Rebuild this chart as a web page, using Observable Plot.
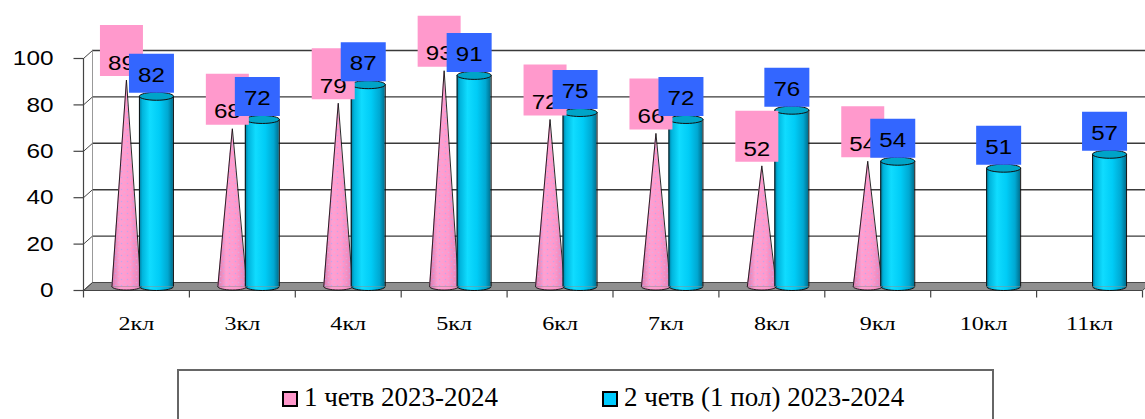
<!DOCTYPE html>
<html>
<head>
<meta charset="utf-8">
<script src="https://cdn.jsdelivr.net/npm/d3@7"></script>
<script src="https://cdn.jsdelivr.net/npm/@observablehq/plot@0.6"></script>
<style>
html, body { margin: 0; padding: 0; background: #fff; }
#wrap { width: 1145px; height: 419px; overflow: hidden; position: relative; }
#legend { position: relative; margin-left: 177px; margin-top: 9px; width: 817px; height: 70px;
  border: 2px solid #666; box-sizing: border-box; font-family: "Liberation Serif", serif; font-size: 27px; color: #000; }
#legend .sw { position: absolute; top: 20px; width: 12px; height: 12px; border: 2.5px solid #000; }
#legend .tx { position: absolute; top: 13px; line-height: 27px; white-space: nowrap; }
</style>
</head>
<body>
<div id="wrap"><div id="chart"></div><div id="legend"></div></div>
<script>
// ---- data ----
const categories = ["2кл","3кл","4кл","5кл","6кл","7кл","8кл","9кл","10кл","11кл"];
const quarter1 = [89, 68, 79, 93, 72, 66, 52, 54, null, null];
const quarter2 = [82, 72, 87, 91, 75, 72, 76, 54, 51, 57];
const yTicks = [0, 20, 40, 60, 80, 100];
const seriesNames = ["1 четв 2023-2024", "2 четв (1 пол) 2023-2024"];
const seriesColors = ["#FF99CC", "#00CCFF"];
const labelColors = ["#FF99CC", "#3366FF"];

// ---- layout ----
const W = 1145, H = 360, ML = 83, MR = 3, MT = 58, MB = 70;
const PXU = (W - ML - MR) / categories.length;
const PXY = (H - MT - MB) / 100;
const ux = px => px / PXU;
const uy = px => px / PXY;
const DX = 9, DY = 8, MID = -4;

// derived mark tables
const cones = [], coneBases = [], cyls = [], lab1 = [], lab2 = [];
quarter1.forEach((val, i) => {
  if (val == null) return;
  const cx = i + 0.5 + ux(-10);
  cones.push({i, x: cx - ux(14.5), y: 0}, {i, x: cx, y: val}, {i, x: cx + ux(14.5), y: 0});
  coneBases.push({x: cx, y: 0});
  lab1.push({x: i + 0.5 + ux(-15), y: val, t: String(val)});
});
quarter2.forEach((val, i) => {
  if (val == null) return;
  const cx = i + 0.5 + ux(20);
  cyls.push({x1: cx - ux(17), x2: cx + ux(17), x: cx, y: val});
  lab2.push({x: i + 0.5 + ux(15), y: val, t: String(val)});
});
const floor = [{x: 0, y: 0}, {x: categories.length, y: 0}, {x: categories.length + ux(DX), y: uy(DY)}, {x: ux(DX), y: uy(DY)}, {x: 0, y: 0}];

// custom symbols
const K = 0.5523;
function ellipseSym(rx, ry, mode) {
  return {draw(c) {
    c.moveTo(-rx, 0);
    c.bezierCurveTo(-rx, ry * K, -rx * K, ry, 0, ry);
    c.bezierCurveTo(rx * K, ry, rx, ry * K, rx, 0);
    if (mode === "full") {
      c.bezierCurveTo(rx, -ry * K, rx * K, -ry, 0, -ry);
      c.bezierCurveTo(-rx * K, -ry, -rx, -ry * K, -rx, 0);
      c.closePath();
    } else if (mode === "halfFill") c.closePath();
  }};
}
function rectSym(w, h) { return {draw(c) { c.rect(-w / 2, -h / 2, w, h); }}; }

const numFont = "Liberation Sans, Arial, sans-serif";

const plot = Plot.plot({
  width: W, height: H,
  marginLeft: ML, marginRight: MR, marginTop: MT, marginBottom: MB,
  x: {type: "linear", domain: [0, categories.length], axis: null},
  y: {domain: [0, 100], axis: null},
  style: {background: "white", overflow: "hidden"},
  marks: [
    // floor
    Plot.line(floor, {x: "x", y: "y", fill: "#8f8f8f", stroke: "#4a4a4a", strokeWidth: 1}),
    // back wall gridlines
    Plot.ruleY(yTicks.filter(t => t > 0), {y: d => d, x1: () => 0, x2: () => categories.length + 0.2, dx: DX, dy: -DY, stroke: "#3a3a3a", strokeWidth: 1.4}),
    // left wall
    Plot.ruleX([0], {x: d => d, y1: () => 0, y2: () => 100, dx: DX, dy: -DY, stroke: "#999", strokeWidth: 1}),
    Plot.link(yTicks, {x1: () => 0, y1: d => d, x2: () => ux(DX), y2: d => d + uy(DY), stroke: "#444", strokeWidth: 1}),
    Plot.ruleX([0], {x: d => d, y1: () => 0, y2: () => 100, stroke: "#444", strokeWidth: 1.2}),
    // y ticks
    Plot.link(yTicks, {x1: () => 0, x2: () => -ux(10), y1: d => d, y2: d => d, stroke: "#444", strokeWidth: 1.2}),
    // x axis line & ticks
    Plot.ruleY([0], {y: d => d, x1: () => 0, x2: () => categories.length, stroke: "#444", strokeWidth: 1.2}),
    Plot.link(d3.range(categories.length + 1), {x1: d => d, x2: d => d, y1: () => 0, y2: () => -uy(7), stroke: "#444", strokeWidth: 1.2}),
    // y tick labels (text mark #0)
    Plot.text(yTicks, {x: () => 0, y: d => d, text: d => String(d), dx: -30, textAnchor: "end", fontSize: 21, fontFamily: numFont, fill: "#000"}),
    // x category labels (text mark #1)
    Plot.text(categories, {x: (d, i) => i + 0.5, y: () => 0, text: d => d, dy: 33, fontSize: 19, fontFamily: "Liberation Serif, Times New Roman, serif", fill: "#000"}),
    // cones
    Plot.area(cones, {x1: "x", y1: () => 0, y2: "y", z: "i", fill: "url(#coneGrad)", dy: MID}),
    Plot.area(cones, {x1: "x", y1: () => 0, y2: "y", z: "i", fill: "url(#conePat)", dy: MID}),
    Plot.line(cones, {x: "x", y: "y", z: "i", stroke: "#111", strokeWidth: 0.9, dy: MID}),
    Plot.dot(coneBases, {x: "x", y: "y", symbol: ellipseSym(14.5, 3.5, "halfFill"), fill: "url(#coneGrad)", stroke: "none", dy: MID}),
    Plot.dot(coneBases, {x: "x", y: "y", symbol: ellipseSym(14.5, 3.5, "arc"), fill: "none", stroke: "#111", strokeWidth: 0.9, dy: MID}),
    // cylinders
    Plot.dot(cyls, {x: "x", y: () => 0, symbol: ellipseSym(17, 4, "halfFill"), fill: "url(#cylGrad)", stroke: "none", dy: MID}),
    Plot.dot(cyls, {x: "x", y: () => 0, symbol: ellipseSym(17, 4, "arc"), fill: "none", stroke: "#111", strokeWidth: 1, dy: MID}),
    Plot.rect(cyls, {x1: "x1", x2: "x2", y1: () => 0, y2: "y", fill: "url(#cylGrad)", dy: MID}),
    Plot.ruleX(cyls, {x: "x1", y1: () => 0, y2: "y", stroke: "#111", strokeWidth: 1, dy: MID}),
    Plot.ruleX(cyls, {x: "x2", y1: () => 0, y2: "y", stroke: "#111", strokeWidth: 1, dy: MID}),
    Plot.dot(cyls, {x: "x", y: "y", symbol: ellipseSym(17, 4, "full"), fill: "#00A4C8", stroke: "#111", strokeWidth: 1, dy: MID}),
    // value labels (text marks #2, #3)
    Plot.dot(lab1, {x: "x", y: "y", symbol: rectSym(43, 51), fill: labelColors[0], stroke: "none", dy: -33.5}),
    Plot.text(lab1, {x: "x", y: "y", text: "t", dy: -21, fontSize: 21, fontFamily: numFont, fill: "#000"}),
    Plot.dot(lab2, {x: "x", y: "y", symbol: rectSym(45, 39), fill: labelColors[1], stroke: "none", dy: -27}),
    Plot.text(lab2, {x: "x", y: "y", text: "t", dy: -25, fontSize: 21, fontFamily: numFont, fill: "#000"})
  ]
});

// gradients & patterns
const svg = d3.select(plot);
const defs = svg.insert("defs", ":first-child");
const cg = defs.append("linearGradient").attr("id", "cylGrad").attr("x1", 0).attr("x2", 1).attr("y1", 0).attr("y2", 0);
[[0, "#00789a"], [0.1, "#00b4dc"], [0.32, "#10dcff"], [0.6, "#00ccf6"], [0.85, "#00a8d2"], [1, "#006f8e"]]
  .forEach(([o, c]) => cg.append("stop").attr("offset", o).attr("stop-color", c));
const pg = defs.append("linearGradient").attr("id", "coneGrad").attr("x1", 0).attr("x2", 1).attr("y1", 0).attr("y2", 0);
[[0, "#d77aae"], [0.3, "#ff9fd0"], [0.65, "#ff99cc"], [1, "#e482b8"]]
  .forEach(([o, c]) => pg.append("stop").attr("offset", o).attr("stop-color", c));
const pat = defs.append("pattern").attr("id", "conePat").attr("patternUnits", "userSpaceOnUse").attr("width", 6).attr("height", 6);
pat.append("circle").attr("cx", 1.5).attr("cy", 1.5).attr("r", 0.8).attr("fill", "#b7a6f2").attr("opacity", 0.8);
pat.append("circle").attr("cx", 4.5).attr("cy", 4.5).attr("r", 0.8).attr("fill", "#c9b8f5").attr("opacity", 0.6);

// horizontal stretch of text marks (the reference is stretched sideways)
const textGroups = plot.querySelectorAll('g[aria-label="text"]');
const stretches = [1.16, 1.27, 1.15, 1.15];
textGroups.forEach((g, k) => {
  const s = stretches[k] || 1;
  g.querySelectorAll("text").forEach(t => {
    const tr = t.getAttribute("transform") || "";
    t.setAttribute("transform", `${tr} scale(${s},1)`);
  });
});

document.getElementById("chart").appendChild(plot);

// legend
const lg = d3.select("#legend");
const items = [{sw: 103, tx: 125}, {sw: 423, tx: 445}];
seriesNames.forEach((name, k) => {
  lg.append("div").attr("class", "sw").style("left", items[k].sw + "px").style("background", seriesColors[k]);
  lg.append("div").attr("class", "tx").style("left", items[k].tx + "px").text(name);
});
</script>
</body>
</html>
